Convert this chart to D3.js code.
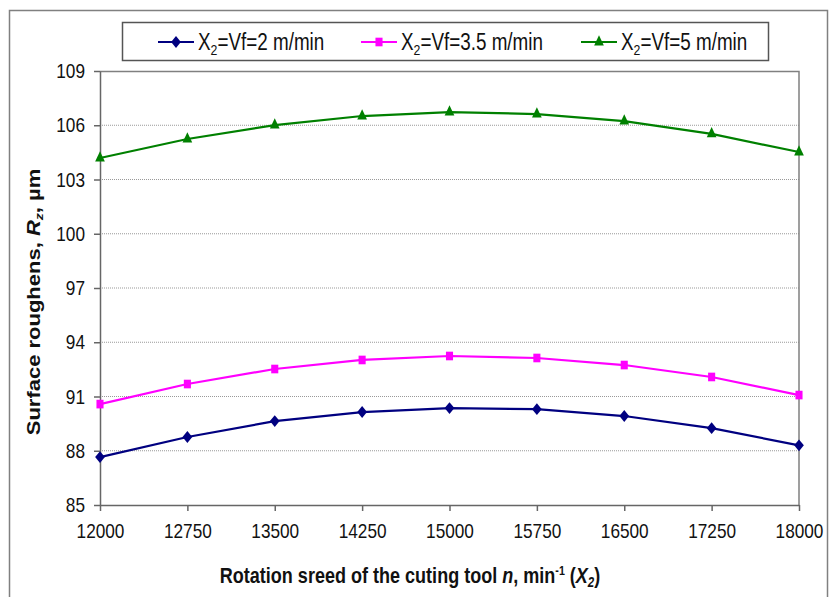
<!DOCTYPE html>
<html>
<head>
<meta charset="utf-8">
<script src="https://cdn.jsdelivr.net/npm/d3@7"></script>
<style>
  body { margin: 0; background: #fff; }
  text { font-family: "Liberation Sans", Arial, sans-serif; fill: #111; }
</style>
</head>
<body>
<div id="chart"></div>
<script>
// Data
var speeds = [12000, 12750, 13500, 14250, 15000, 15750, 16500, 17250, 18000];
var rz2 = [87.65, 88.76, 89.64, 90.14, 90.36, 90.30, 89.92, 89.25, 88.30];
var rz35 = [90.58, 91.69, 92.52, 93.02, 93.24, 93.13, 92.74, 92.08, 91.08];
var rz5 = [104.19, 105.24, 106.01, 106.51, 106.73, 106.62, 106.23, 105.52, 104.52];
var yTicks = [85, 88, 91, 94, 97, 100, 103, 106, 109];
var seriesNames = ["2", "3.5", "5"];

var svgWidth = 829;
var svgHeight = 597;
var squeeze = 0.82; // the picture's text is narrow, so squash it sideways

var margin = { top: 71, right: 30, bottom: 92, left: 100 };
var width = 799 - margin.left;
var height = 505 - margin.top;

var svg = d3.select("#chart")
  .append("svg")
  .attr("width", svgWidth)
  .attr("height", svgHeight);

// outer frame
svg.append("rect")
  .attr("x", 9.5).attr("y", 10.5)
  .attr("width", 818).attr("height", 600)
  .attr("fill", "none")
  .attr("stroke", "#808080")
  .attr("stroke-width", 1.5);

var chartGroup = svg.append("g")
  .attr("transform", `translate(${margin.left}, ${margin.top})`);

var xScale = d3.scalePoint()
  .domain(speeds)
  .range([0, width]);

var yScale = d3.scaleLinear()
  .domain([85, 109])
  .range([height, 0]);

// grid lines
chartGroup.append("g")
  .selectAll("line")
  .data(yTicks.slice(1, -1))
  .enter()
  .append("line")
  .attr("x1", 0).attr("x2", width)
  .attr("y1", d => yScale(d)).attr("y2", d => yScale(d))
  .attr("stroke", "#999")
  .attr("stroke-width", 1)
  .attr("stroke-dasharray", "1,1");

// plot frame (top and right)
chartGroup.append("path")
  .attr("d", `M0,0.5H${width}V${height}`)
  .attr("fill", "none")
  .attr("stroke", "#808080")
  .attr("stroke-width", 1.5);

// axes
var bottomAxis = d3.axisBottom(xScale).tickSizeOuter(0).tickSizeInner(6).tickPadding(8);
var leftAxis = d3.axisLeft(yScale).tickValues(yTicks).tickSizeOuter(0).tickSizeInner(6).tickPadding(9);

var xAxis = chartGroup.append("g")
  .attr("transform", `translate(0, ${height})`)
  .call(bottomAxis);

var yAxis = chartGroup.append("g")
  .call(leftAxis);

[xAxis, yAxis].forEach(function(ax) {
  ax.select(".domain").attr("stroke", "#666").attr("stroke-width", 1.5);
  ax.selectAll(".tick line").attr("stroke", "#666").attr("stroke-width", 1.5);
  ax.selectAll(".tick text")
    .attr("fill", "#111")
    .attr("transform", `scale(${squeeze},1)`)
    .style("font-size", "21px")
    .style("font-family", "'Liberation Sans', Arial, sans-serif");
});
xAxis.selectAll(".tick text").attr("dy", "0.9em");
yAxis.selectAll(".tick text").attr("x", -15 / squeeze);

// series
var series = [
  { values: rz2, color: "#000080", symbol: d3.symbolDiamond2, size: 90 },
  { values: rz35, color: "#FF00FF", symbol: d3.symbolSquare2, size: 95 },
  { values: rz5, color: "#008000", symbol: d3.symbolTriangle2, size: 100 }
];

var line = d3.line()
  .x((d, i) => xScale(speeds[i]))
  .y(d => yScale(d));

series.forEach(function(s) {
  chartGroup.append("path")
    .datum(s.values)
    .attr("d", line)
    .attr("fill", "none")
    .attr("stroke", s.color)
    .attr("stroke-width", 2.2);

  chartGroup.selectAll(null)
    .data(s.values)
    .enter()
    .append("path")
    .attr("d", d3.symbol().type(s.symbol).size(s.size))
    .attr("transform", (d, i) => `translate(${xScale(speeds[i])}, ${yScale(d)}) scale(${squeeze},1)`)
    .attr("fill", s.color);
});

// legend
var legend = svg.append("g");
legend.append("rect")
  .attr("x", 122.5).attr("y", 22.5)
  .attr("width", 646).attr("height", 38)
  .attr("fill", "#fff")
  .attr("stroke", "#555")
  .attr("stroke-width", 1.5);

var legendX = [158, 361, 581];
series.forEach(function(s, i) {
  var lx = legendX[i];
  var g = legend.append("g").attr("transform", `translate(${lx}, 42)`);
  g.append("line")
    .attr("x1", 0).attr("x2", 36)
    .attr("stroke", s.color)
    .attr("stroke-width", 2.2);
  g.append("path")
    .attr("d", d3.symbol().type(s.symbol).size(s.size))
    .attr("transform", `translate(18,0) scale(${squeeze},1)`)
    .attr("fill", s.color);
  var t = g.append("text")
    .attr("transform", `translate(40, 8) scale(${squeeze},1)`)
    .style("font-size", "23px");
  t.append("tspan").text("X");
  t.append("tspan").attr("dy", 5).style("font-size", "15px").text("2");
  t.append("tspan").attr("dy", -5).text("=Vf=" + seriesNames[i] + " m/min");
});

// y axis title
var yTitle = svg.append("text")
  .attr("transform", `translate(40, 302) rotate(-90) scale(1,${squeeze})`)
  .attr("text-anchor", "middle")
  .style("font-size", "22px")
  .style("font-weight", "bold");
yTitle.append("tspan").text("Surface roughens, ");
yTitle.append("tspan").style("font-style", "italic").text("R");
yTitle.append("tspan").attr("dy", 4).style("font-size", "14px").style("font-style", "italic").text("z");
yTitle.append("tspan").attr("dy", -4).text(", µm");

// x axis title
var xTitle = svg.append("text")
  .attr("transform", `translate(410, 583) scale(${squeeze},1)`)
  .attr("text-anchor", "middle")
  .style("font-size", "22px")
  .style("font-weight", "bold");
xTitle.append("tspan").text("Rotation sreed of the cuting tool ");
xTitle.append("tspan").style("font-style", "italic").text("n");
xTitle.append("tspan").text(", min");
xTitle.append("tspan").attr("dy", -8).style("font-size", "13px").text("-1");
xTitle.append("tspan").attr("dy", 8).text(" (");
xTitle.append("tspan").style("font-style", "italic").text("X");
xTitle.append("tspan").attr("dy", 4).style("font-size", "14px").style("font-style", "italic").text("2");
xTitle.append("tspan").attr("dy", -4).text(")");
</script>
</body>
</html>
